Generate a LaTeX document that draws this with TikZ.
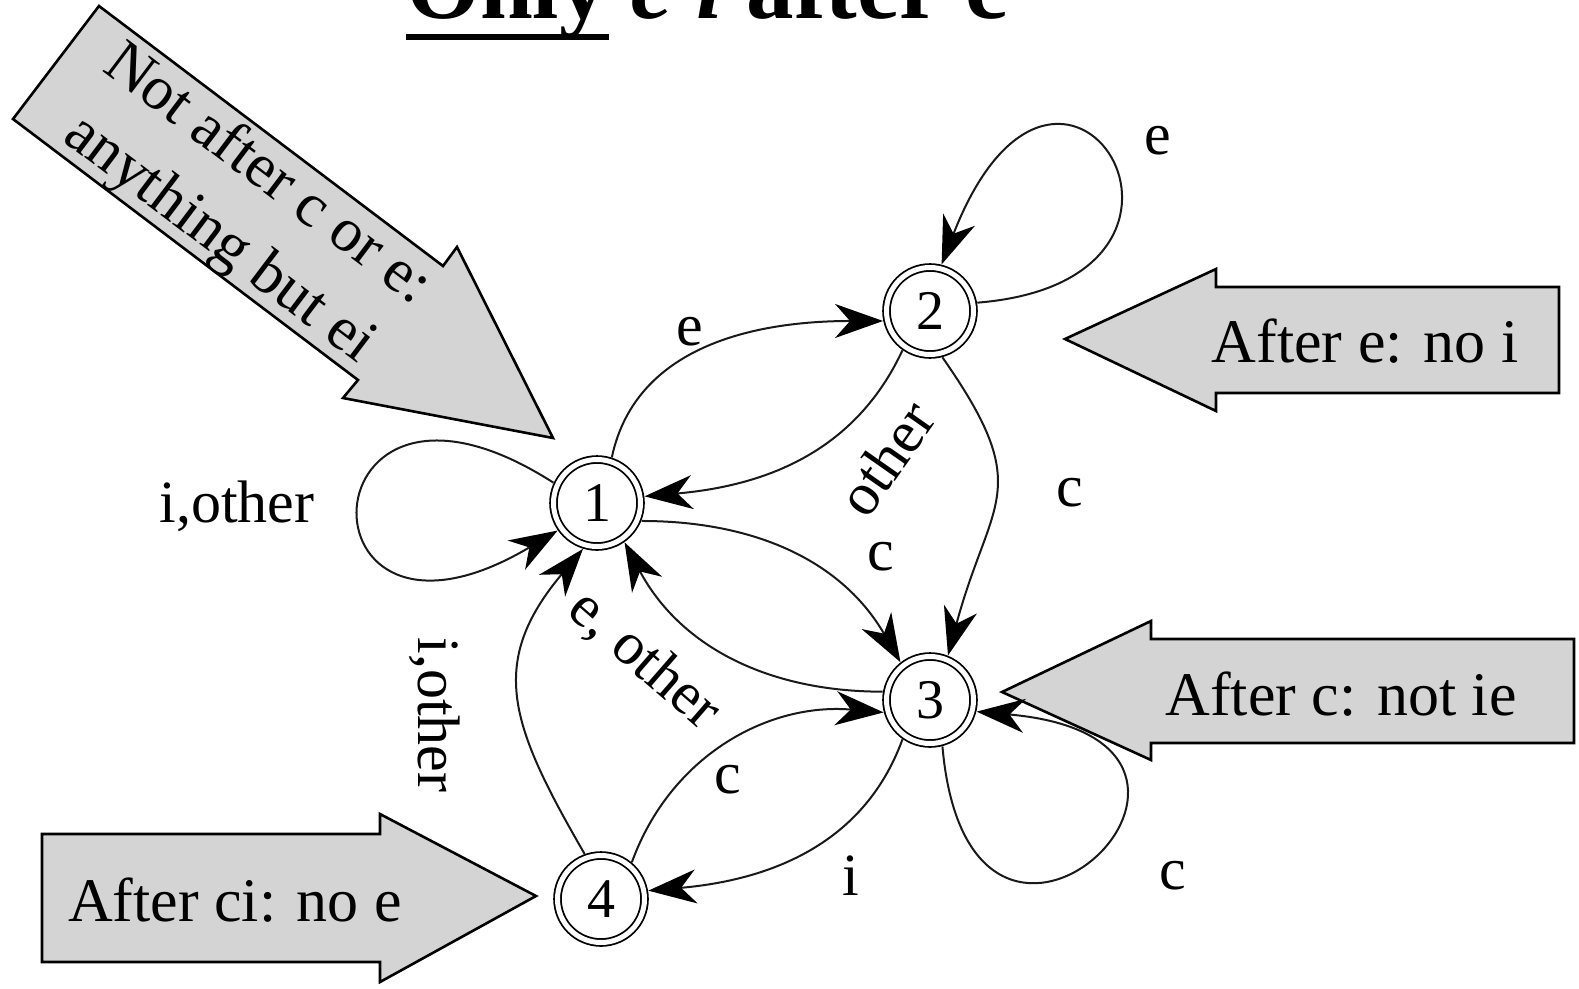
\documentclass[tikz,border=0pt]{standalone}
\usepackage{fontspec}
\setmainfont{Liberation Serif}
\usetikzlibrary{arrows.meta}

\tikzset{
  estado/.style={circle, draw, double, line width=1.8pt, double distance=5pt,
    minimum size=87pt, inner sep=0pt, outer sep=4.5pt, font=\fontsize{56}{60}\selectfont},
  trans/.style={draw=black!90, line width=2pt,
    -{Stealth[length=48pt,width=34pt,inset=15pt,black]}},
  etiq/.style={font=\fontsize{60}{64}\selectfont, inner sep=0pt},
  aviso/.style={draw, line width=2.6pt, fill=black!17, line join=miter},
  avisotxt/.style={font=\fontsize{62}{80}\selectfont, inner sep=0pt, anchor=base},
}

\begin{document}
\begin{tikzpicture}[x=1pt,y=1pt]

    \useasboundingbox (0,0) rectangle (1579,-988);
    \clip (0,0) rectangle (1579,-988);

    % Titulo
    \node[anchor=base west, inner sep=0pt, font=\fontsize{95}{100}\selectfont\bfseries]
      (titulo) at (406,-18) {Only \textit{e i} after c};
    \draw[line width=6pt] (titulo.base west) ++(0,-19) -- ++(203,0);

    % Flechas de aviso
    \draw[aviso] (99,-6) -- (443,-266) -- (457,-247) -- (553,-438)
      -- (343,-398) -- (358,-380) -- (13,-119) -- cycle;
    \node[avisotxt, anchor=center, rotate=-37, align=center] (avc) at (243,-208)
      {Not after c or e:\\anything but ei};
    \draw[aviso] (1559,-287) -- (1216,-287) -- (1216,-269) -- (1065,-339)
      -- (1216,-411) -- (1216,-393) -- (1559,-393) -- cycle;
    \node[avisotxt] (ave) at (1365,-362) {After e: no i};
    \draw[aviso] (1574,-639) -- (1151,-639) -- (1151,-621) -- (1002,-692)
      -- (1151,-760) -- (1151,-743) -- (1574,-743) -- cycle;
    \node[avisotxt] (avcc) at (1341,-715) {After c: not ie};
    \draw[aviso] (42,-834) -- (380,-834) -- (380,-814) -- (536,-896)
      -- (380,-982) -- (380,-962) -- (42,-962) -- cycle;
    \node[avisotxt] (avci) at (235,-921) {After ci: no e};

    % Estados
    \node[estado] (n1) at (597,-503) {1};
    \node[estado] (n2) at (930,-311) {2};
    \node[estado] (n3) at (930,-700) {3};
    \node[estado] (n4) at (601,-899) {4};

    % Transiciones
    \draw[trans] (n1.72) to[out=78,in=180] (n2.192);
    \draw[trans] (n2.235) to[out=245,in=5] (n1.8);
    \draw[trans] (n1.-22) to[out=0,in=120] (n3.128);
    \draw[trans] (n2.-75) to[out=-55,in=75,looseness=1.4] (n3.68);
    \draw[trans] (n3.170) to[out=180,in=-62] (n1.-55);
    \draw[trans] (n4.50) to[out=70,in=175] (n3.195);
    \draw[trans] (n3.235) to[out=250,in=5] (n4.10);
    \draw[trans] (n4.110) to[out=120,in=230,looseness=1.25] (n1.253);
    % Bucles
    \draw[trans] (n1.155) .. controls (300,-320) and (290,-690) .. (n1.215);
    \draw[trans] (n2.10) .. controls (1260,-280) and (1060,40) .. (n2.76);
    \draw[trans] (n3.-75) .. controls (970,-1060) and (1300,-740) .. (n3.-14);

    % Etiquetas
    \node[etiq] (e12) at (690,-332) {e};
    \node[etiq, rotate=55] (e21) at (886,-458) {other};
    \node[etiq] (e13) at (881,-557) {c};
    \node[etiq] (e23) at (1070,-493) {c};
    \node[etiq, rotate=-41] (e31) at (644,-660) {e, other};
    \node[etiq] (e43) at (728,-780) {c};
    \node[etiq] (e34) at (851,-876) {i};
    \node[etiq, rotate=-90] (e41) at (435,-715) {i,other};
    \node[etiq] (e11) at (237,-506) {i,other};
    \node[etiq] (e22) at (1158,-141) {e};
    \node[etiq] (e33) at (1173,-876) {c};
\end{tikzpicture}
\end{document}
